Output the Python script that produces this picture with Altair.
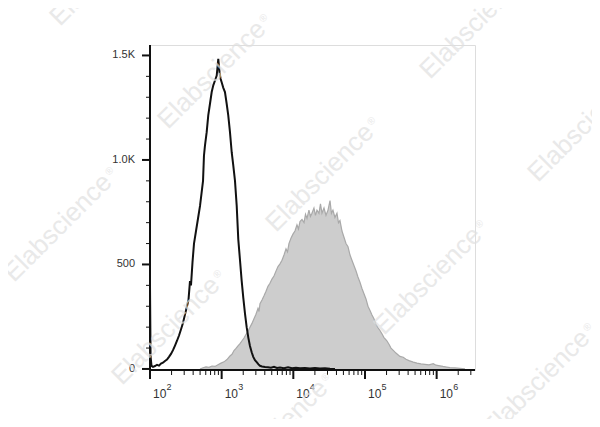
import altair as alt
import pandas as pd

# ---- black (control) histogram: log10 fluorescence, event count ----
black_log = [2.000, 2.000, 2.008, 2.021, 2.042, 2.070, 2.098, 2.126, 2.153, 2.181,
             2.209, 2.237, 2.265, 2.293, 2.321, 2.349, 2.377, 2.405, 2.433, 2.460,
             2.488, 2.516, 2.537, 2.558, 2.572, 2.593, 2.614, 2.642, 2.670, 2.698,
             2.719, 2.740, 2.753, 2.767, 2.791, 2.813, 2.837, 2.861, 2.883, 2.907,
             2.931, 2.953, 2.970, 2.984, 3.000, 3.023, 3.046, 3.070, 3.092, 3.116,
             3.140, 3.162, 3.186, 3.210, 3.232, 3.256, 3.279, 3.302, 3.326, 3.349,
             3.372, 3.395, 3.419, 3.441, 3.465, 3.489, 3.514, 3.535, 3.563, 3.605,
             3.646, 3.688, 3.730, 3.772, 3.814, 3.870, 3.926, 3.981, 4.037, 4.093,
             4.163, 4.232, 4.302, 4.372, 4.442, 4.512, 4.581]
black_count = [0, 395, 60, 15, 10, 14, 20, 16, 26, 30,
               38, 45, 58, 72, 90, 112, 135, 160, 190, 220,
               260, 300, 330, 420, 400, 510, 600, 660, 720, 780,
               840, 900, 1020, 1069, 1133, 1213, 1269, 1325, 1357, 1380,
               1404, 1484, 1420, 1390, 1372, 1345, 1325, 1269, 1213, 1133,
               1037, 974, 900, 780, 620, 520, 423, 340, 264, 200,
               150, 110, 80, 58, 42, 33, 22, 15, 12, 9,
               8, 6, 10, 5, 7, 4, 8, 3, 6, 3,
               5, 2, 4, 2, 3, 1, 0]

# ---- gray (stained) histogram ----
gray_log = [2.698, 2.740, 2.781, 2.823, 2.865, 2.907, 2.949, 2.991, 3.033, 3.074,
            3.116, 3.144, 3.172, 3.200, 3.228, 3.256, 3.284, 3.312, 3.339, 3.367,
            3.395, 3.423, 3.451, 3.479, 3.507, 3.521, 3.535, 3.563, 3.591, 3.619,
            3.646, 3.674, 3.702, 3.730, 3.758, 3.786, 3.814, 3.842, 3.870, 3.898,
            3.919, 3.939, 3.967, 3.995, 4.023, 4.051, 4.072, 4.093, 4.121, 4.149,
            4.170, 4.191, 4.218, 4.239, 4.260, 4.288, 4.309, 4.330, 4.358, 4.379,
            4.400, 4.428, 4.456, 4.484, 4.512, 4.532, 4.553, 4.581, 4.609, 4.630,
            4.651, 4.679, 4.707, 4.735, 4.763, 4.791, 4.818, 4.846, 4.874, 4.902,
            4.930, 4.958, 4.986, 5.014, 5.042, 5.070, 5.098, 5.125, 5.153, 5.181,
            5.209, 5.237, 5.265, 5.303, 5.335, 5.363, 5.395, 5.432, 5.460, 5.488,
            5.534, 5.572, 5.614, 5.674, 5.725, 5.781, 5.837, 5.893, 5.953, 5.991,
            6.046, 6.088, 6.140, 6.186, 6.256, 6.325, 6.395]
gray_count = [0, 6, 10, 8, 14, 12, 20, 28, 34, 45,
              62, 70, 88, 98, 110, 121, 135, 148, 165, 180,
              200, 218, 240, 262, 290, 275, 312, 330, 350, 372,
              395, 410, 430, 445, 468, 490, 503, 520, 545, 575,
              560, 600, 625, 645, 660, 690, 670, 705, 715, 700,
              740, 720, 760, 730, 745, 770, 735, 760, 745, 790,
              745, 770, 735, 760, 806, 745, 760, 725, 745, 700,
              710, 660, 630, 600, 585, 545, 520, 495, 470, 440,
              415, 385, 360, 335, 300, 280, 258, 240, 215, 198,
              184, 168, 150, 136, 118, 100, 89, 76, 68, 60,
              56, 46, 40, 33, 28, 24, 22, 20, 25, 18,
              15, 12, 9, 6, 5, 3, 0]

# ---- axes ----
x_major_exp = [2, 3, 4, 5, 6]
x_minor_mult = [2, 3, 4, 5, 6, 7, 8, 9]
x_max = 3.43e6
y_major = [0, 500, 1000, 1500]
y_major_labels = ["0", "500", "1.0K", "1.5K"]
y_minor = [100, 200, 300, 400, 600, 700, 800, 900, 1100, 1200, 1300, 1400]

# ---- watermark ----
wm_text = "Elabscience"
wm_px = [60, 168, 276, 384, 492, 430, 538, -94, 14, 122, 230]
wm_py = [27, 130, 233, 336, 439, 80, 183, 180, 283, 386, 489]

FONT = "Liberation Sans"
W, H = 325, 325
PLOT_LEFT, PLOT_TOP = 150, 45

black = pd.DataFrame({"x": [10 ** v for v in black_log], "count": black_count})
black["idx"] = range(len(black))
gray = pd.DataFrame({"x": [10 ** v for v in gray_log], "count": gray_count})

x_major_df = pd.DataFrame({"v": [10 ** e for e in x_major_exp],
                           "base": ["10"] * len(x_major_exp),
                           "exp": [str(e) for e in x_major_exp]})
x_minor_df = pd.DataFrame({"v": [m * 10 ** e for e in x_major_exp for m in x_minor_mult
                                 if m * 10 ** e <= x_max]})
y_major_df = pd.DataFrame({"v": y_major, "lab": y_major_labels})
y_minor_df = pd.DataFrame({"v": y_minor})

xscale = alt.Scale(type="log", domain=[100, x_max], nice=False)
yscale = alt.Scale(domain=[-5, 1550], nice=False, zero=False)

def X(f):
    return alt.X(f, scale=xscale, axis=None)

def Y(f):
    return alt.Y(f, scale=yscale, axis=None)

area = alt.Chart(gray).mark_area(
    color="#cdcdcd", opacity=1, line={"color": "#a9a9a9", "strokeWidth": 1.2}, interpolate="linear"
).encode(x=X("x:Q"), y=Y("count:Q"))

line = alt.Chart(black).mark_line(color="#111", strokeWidth=2, interpolate="linear").encode(
    x=X("x:Q"), y=Y("count:Q"), order=alt.Order("idx:Q"))

# axis lines (left & bottom)
left_dom = alt.Chart(y_major_df).mark_rule(color="#111", strokeWidth=1.5).encode(
    x=alt.value(0), y=alt.value(0), y2=alt.value(H))
bot_dom = alt.Chart(y_major_df).mark_rule(color="#111", strokeWidth=1.5).encode(
    x=alt.value(0), x2=alt.value(W), y=alt.value(H))

# ticks
x_maj_t = alt.Chart(x_major_df).mark_rule(color="#111", strokeWidth=2).encode(
    x=X("v:Q"), y=alt.value(H), y2=alt.value(H + 9))
x_min_t = alt.Chart(x_minor_df).mark_rule(color="#111", strokeWidth=1).encode(
    x=X("v:Q"), y=alt.value(H), y2=alt.value(H + 5))
y_maj_t = alt.Chart(y_major_df).mark_rule(color="#111", strokeWidth=2).encode(
    y=Y("v:Q"), x=alt.value(-8), x2=alt.value(0))
y_min_t = alt.Chart(y_minor_df).mark_rule(color="#111", strokeWidth=1).encode(
    y=Y("v:Q"), x=alt.value(-4), x2=alt.value(0))

# tick labels
y_lab = alt.Chart(y_major_df).mark_text(
    align="right", baseline="middle", dx=-15, font=FONT, fontSize=11, color="#333"
).encode(y=Y("v:Q"), x=alt.value(0), text="lab:N")
lab_base = alt.Chart(x_major_df).mark_text(
    align="left", baseline="alphabetic", dx=3, font=FONT, fontSize=12, color="#333"
).encode(x=X("v:Q"), y=alt.value(H + 28), text="base:N")
lab_exp = alt.Chart(x_major_df).mark_text(
    align="left", baseline="alphabetic", dx=16.5, font=FONT, fontSize=9, color="#333"
).encode(x=X("v:Q"), y=alt.value(H + 20), text="exp:N")

wm = pd.DataFrame({"wx": [p - PLOT_LEFT for p in wm_px],
                   "wy": [p - PLOT_TOP for p in wm_py],
                   "t": [wm_text] * len(wm_px)})
wm["rx"] = wm["wx"] + 95
wm["ry"] = wm["wy"] - 107
wm_layer = alt.Chart(wm).mark_text(
    align="left", baseline="alphabetic", angle=315, font=FONT, fontSize=26,
    color="#e0e0e0", opacity=0.7
).encode(x=alt.X("wx:Q", scale=None, axis=None), y=alt.Y("wy:Q", scale=None, axis=None), text="t:N")
wm_reg = alt.Chart(wm).mark_text(
    align="left", baseline="alphabetic", angle=315, font=FONT, fontSize=10,
    color="#e0e0e0", opacity=0.7
).encode(x=alt.X("rx:Q", scale=None, axis=None), y=alt.Y("ry:Q", scale=None, axis=None), text=alt.value("®"))

chart = alt.layer(
    area, line, left_dom, bot_dom, x_maj_t, x_min_t, y_maj_t, y_min_t,
    y_lab, lab_base, lab_exp, wm_layer, wm_reg
).properties(
    width=W, height=H,
    autosize=alt.AutoSizeParams(type="none"),
    padding={"left": PLOT_LEFT - 8, "top": PLOT_TOP - 8, "right": 117, "bottom": 49},
).configure_view(stroke="#9a9a9a", strokeWidth=1.5).configure(background="white")

chart.save("out.html", embed_options={"renderer": "svg", "actions": False})
